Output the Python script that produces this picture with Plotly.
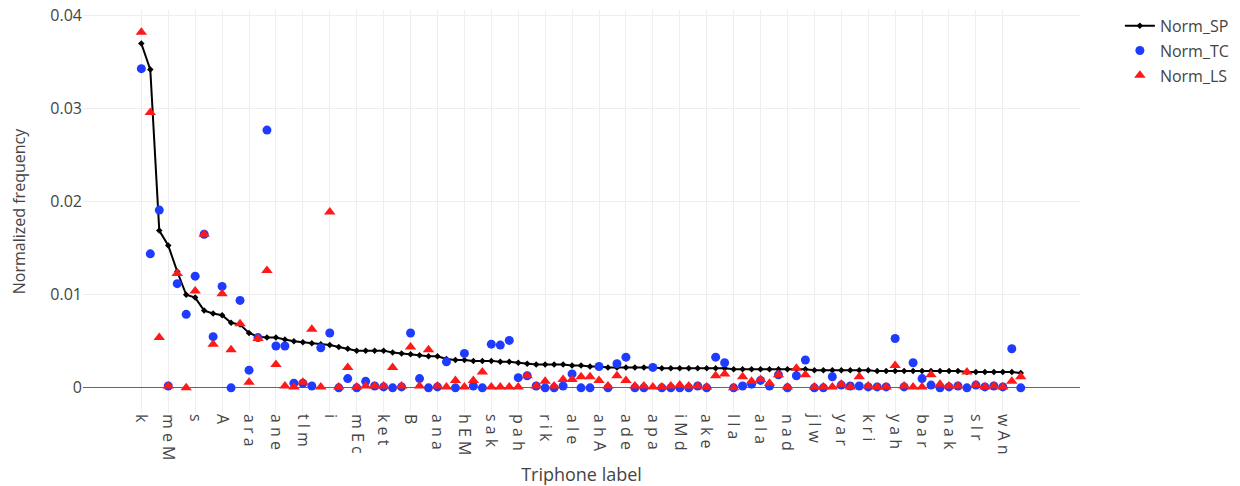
import plotly.graph_objects as go

labels = [
    "k", "a", "e", "m e M", "n", "t", "s", "r", "l", "A",
    "m", "d", "a r a", "a k a", "E", "a n e", "a t a", "h", "t l m", "i n a",
    "o", "i", "a m a", "p", "m E c", "e r a", "y", "k e t", "a s a", "b",
    "B", "e n a", "w", "a n a", "a d a", "i k a", "h E M", "u", "a l i", "s a k",
    "e k a", "r a n", "p a h", "a y a", "t a n", "r i k", "k a r", "e l a", "a l e", "g",
    "n a t", "a h A", "a r e", "d a r", "a d e", "i t a", "m a n", "a p a", "k a n", "r a h",
    "i M d", "s a r", "a t e", "a k e", "n a m", "l a r", "l l a", "a w a", "t a r", "a l a",
    "h a n", "e t a", "n a d", "a b a", "d a n", "j l w", "m a r", "o r a", "y a r", "k a m",
    "b a n", "k r i", "s a n", "a j a", "y a h", "r a k", "e m a", "b a r", "l a n", "d a h",
    "n a k", "w a r", "i r a", "s l r", "t a k", "a g a", "w A n", "m a k", "r e n",
]

norm_sp = [
    0.0370, 0.0342, 0.0169, 0.0153, 0.0125, 0.0100, 0.0097, 0.0083, 0.0080, 0.0078,
    0.0070, 0.0068, 0.0059, 0.0055, 0.0054, 0.0054, 0.0052, 0.0050, 0.0049, 0.0048,
    0.0047, 0.0046, 0.0044, 0.0042, 0.0040, 0.0040, 0.0040, 0.0040, 0.0038, 0.0037,
    0.0036, 0.0035, 0.0034, 0.0034, 0.0031, 0.0030, 0.0030, 0.0029, 0.0029, 0.0029,
    0.0028, 0.0028, 0.0027, 0.0026, 0.0025, 0.0025, 0.0025, 0.0025, 0.0024, 0.0024,
    0.0023, 0.0023, 0.0022, 0.0022, 0.0022, 0.0022, 0.0022, 0.0022, 0.0021, 0.0021,
    0.0021, 0.0021, 0.0021, 0.0021, 0.0021, 0.0021, 0.0020, 0.0020, 0.0020, 0.0020,
    0.0020, 0.0020, 0.0020, 0.0020, 0.0020, 0.0019, 0.0019, 0.0019, 0.0019, 0.0019,
    0.0019, 0.0019, 0.0018, 0.0018, 0.0018, 0.0018, 0.0018, 0.0018, 0.0018, 0.0018,
    0.0018, 0.0018, 0.0017, 0.0017, 0.0017, 0.0017, 0.0017, 0.0017, 0.0016,
]

norm_tc = [
    0.0343, 0.0144, 0.0191, 0.0002, 0.0112, 0.0079, 0.0120, 0.0165, 0.0055, 0.0109,
    0.0000, 0.0094, 0.0019, 0.0054, 0.0277, 0.0045, 0.0045, 0.0005, 0.0005, 0.0002,
    0.0043, 0.0059, 0.0000, 0.0010, 0.0000, 0.0007, 0.0002, 0.0001, 0.0000, 0.0001,
    0.0059, 0.0010, 0.0000, 0.0001, 0.0028, 0.0000, 0.0037, 0.0002, 0.0000, 0.0047,
    0.0046, 0.0051, 0.0011, 0.0013, 0.0002, 0.0000, 0.0000, 0.0002, 0.0015, 0.0000,
    0.0000, 0.0023, 0.0000, 0.0026, 0.0033, 0.0000, 0.0000, 0.0022, 0.0000, 0.0000,
    0.0000, 0.0000, 0.0002, 0.0000, 0.0033, 0.0027, 0.0000, 0.0002, 0.0004, 0.0008,
    0.0002, 0.0014, 0.0000, 0.0013, 0.0030, 0.0000, 0.0000, 0.0012, 0.0003, 0.0002,
    0.0002, 0.0001, 0.0001, 0.0001, 0.0053, 0.0001, 0.0027, 0.0010, 0.0003, 0.0000,
    0.0001, 0.0002, 0.0000, 0.0003, 0.0001, 0.0002, 0.0001, 0.0042, 0.0000,
]

norm_ls = [
    0.0382, 0.0296, 0.0054, 0.0002, 0.0123, 0.0000, 0.0104, 0.0165, 0.0047, 0.0101,
    0.0041, 0.0069, 0.0006, 0.0053, 0.0126, 0.0025, 0.0002, 0.0001, 0.0006, 0.0063,
    0.0001, 0.0189, 0.0001, 0.0022, 0.0001, 0.0002, 0.0002, 0.0002, 0.0022, 0.0002,
    0.0044, 0.0002, 0.0041, 0.0002, 0.0001, 0.0008, 0.0001, 0.0008, 0.0017, 0.0001,
    0.0001, 0.0001, 0.0001, 0.0013, 0.0002, 0.0007, 0.0002, 0.0009, 0.0009, 0.0012,
    0.0012, 0.0008, 0.0002, 0.0013, 0.0008, 0.0002, 0.0002, 0.0001, 0.0001, 0.0002,
    0.0003, 0.0002, 0.0002, 0.0001, 0.0013, 0.0015, 0.0000, 0.0012, 0.0007, 0.0009,
    0.0005, 0.0014, 0.0001, 0.0021, 0.0014, 0.0001, 0.0001, 0.0001, 0.0004, 0.0001,
    0.0012, 0.0002, 0.0001, 0.0001, 0.0024, 0.0002, 0.0001, 0.0001, 0.0014, 0.0004,
    0.0002, 0.0002, 0.0017, 0.0003, 0.0001, 0.0002, 0.0001, 0.0007, 0.0012,
]

FONT = "Open Sans, sans-serif"

fig = go.Figure()
fig.add_trace(go.Scatter(
    x=labels, y=norm_sp, name="Norm_SP", mode="lines+markers", legendgroup="sp",
    line=dict(color="black", width=2),
    marker=dict(color="black", size=5, symbol="diamond"),
))
fig.add_trace(go.Scatter(
    x=labels, y=norm_tc, name="Norm_TC", mode="markers", legendgroup="tc",
    marker=dict(color="rgb(30,60,255)", size=9, symbol="circle"),
))
fig.add_trace(go.Scatter(
    x=labels, y=norm_ls, name="Norm_LS", mode="markers", legendgroup="ls",
    marker=dict(color="rgb(255,25,25)", size=10, symbol="triangle-up"),
))

fig.update_layout(
    width=1232, height=478,
    template="none",
    paper_bgcolor="white", plot_bgcolor="white",
    font=dict(family=FONT, size=16, color="#444"),
    margin=dict(l=75, r=160, t=2, b=73, autoexpand=False),
    showlegend=True,
    legend=dict(x=1.04, y=1.003, xanchor="left", yanchor="top",
                font=dict(size=16, color="#444"), tracegroupgap=1),
    xaxis=dict(
        type="category", categoryorder="array", categoryarray=labels,
        range=[-6.5, 104.6],
        tickmode="linear", tick0=0, dtick=3, tickangle=90,
        showgrid=True, gridcolor="#eee", gridwidth=1,
        zeroline=False, showline=False, ticks="",
        tickfont=dict(size=16, color="#444"),
        ticklabeloverflow="allow",
        automargin=False,
        title=dict(text="Triphone label", font=dict(size=18, color="#444"), standoff=12),
    ),
    yaxis=dict(
        range=[-0.0027, 0.0406],
        tickmode="linear", tick0=0, dtick=0.01,
        showgrid=True, gridcolor="#eee", gridwidth=1,
        zeroline=True, zerolinecolor="#666", zerolinewidth=1,
        showline=False, ticks="",
        tickfont=dict(size=16, color="#444"),
        ticklabeloverflow="allow",
        automargin=False,
        title=dict(text="Normalized frequency", font=dict(size=16, color="#444"), standoff=20),
    ),
)

fig.write_html("out.html")
